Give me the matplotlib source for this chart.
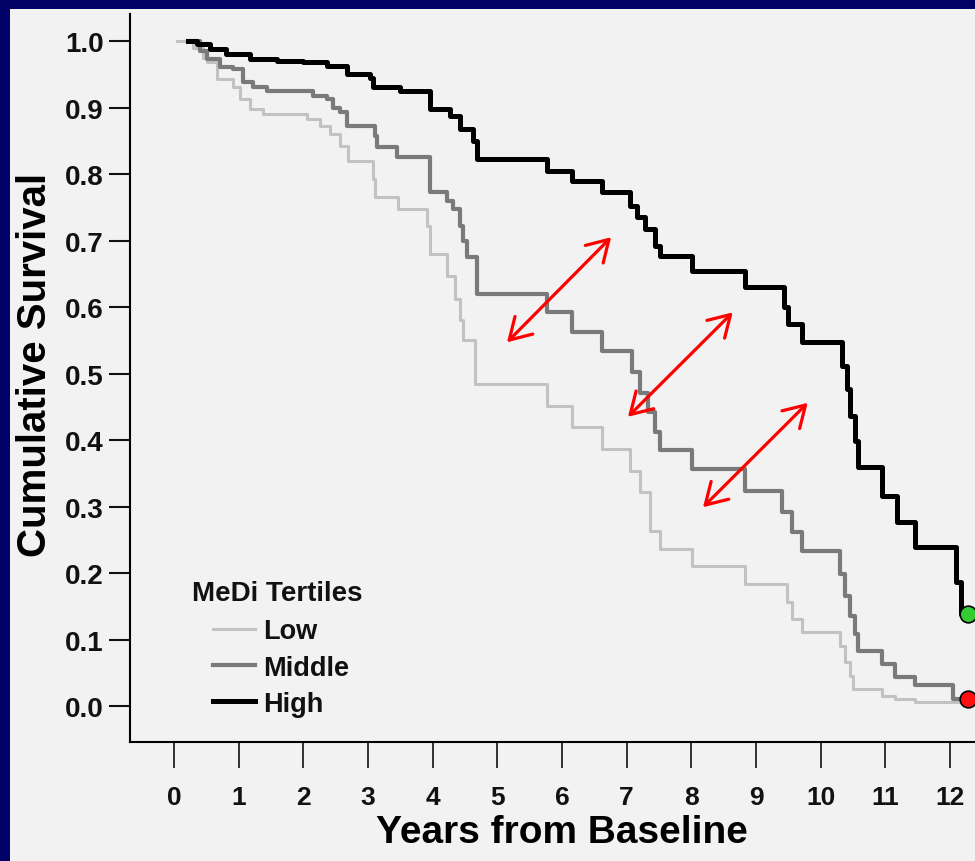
import matplotlib.pyplot as plt
from matplotlib.patches import Rectangle

years = list(range(13))
surv_ticks = [0.0, 0.1, 0.2, 0.3, 0.4, 0.5, 0.6, 0.7, 0.8, 0.9, 1.0]

# Kaplan-Meier steps (time, survival after the drop)
low_t = [0.05, 0.30, 0.45, 0.51, 0.66, 0.91, 1.02, 1.18, 1.38, 2.06, 2.26, 2.41, 2.57, 2.69, 3.08,
         3.11, 3.46, 3.91, 3.96, 4.22, 4.35, 4.42, 4.47, 4.65, 5.77, 6.15, 6.62, 7.05, 7.21, 7.36,
         7.51, 8.01, 8.83, 9.48, 9.56, 9.71, 10.30, 10.38, 10.45, 10.50, 10.95, 11.15, 11.46, 12.20]
low_s = [1.000, 0.990, 0.975, 0.968, 0.943, 0.931, 0.913, 0.898, 0.890, 0.883, 0.872, 0.860, 0.842, 0.820, 0.792,
         0.765, 0.747, 0.722, 0.680, 0.647, 0.612, 0.580, 0.550, 0.484, 0.451, 0.420, 0.386, 0.353, 0.322, 0.263,
         0.236, 0.211, 0.183, 0.156, 0.131, 0.111, 0.090, 0.066, 0.045, 0.026, 0.015, 0.010, 0.006, 0.006]

mid_t = [0.25, 0.40, 0.51, 0.71, 0.91, 1.07, 1.22, 1.44, 2.15, 2.37, 2.46, 2.57, 2.68, 3.11, 3.14,
         3.45, 3.96, 4.22, 4.31, 4.42, 4.47, 4.53, 4.69, 5.77, 6.15, 6.62, 7.08, 7.21, 7.33, 7.44,
         7.51, 8.01, 8.83, 9.40, 9.56, 9.71, 10.30, 10.38, 10.45, 10.53, 10.58, 10.95, 11.15, 11.46, 12.05, 12.20]
mid_s = [1.000, 0.985, 0.973, 0.961, 0.958, 0.938, 0.931, 0.925, 0.917, 0.913, 0.900, 0.893, 0.872, 0.857, 0.840,
         0.826, 0.773, 0.760, 0.747, 0.722, 0.700, 0.675, 0.620, 0.593, 0.563, 0.534, 0.502, 0.470, 0.442, 0.412,
         0.385, 0.356, 0.323, 0.292, 0.262, 0.233, 0.198, 0.165, 0.135, 0.108, 0.083, 0.063, 0.044, 0.032, 0.010, 0.010]

high_t = [0.22, 0.35, 0.56, 0.80, 1.18, 1.60, 1.99, 2.37, 2.68, 3.03, 3.08, 3.49, 3.96, 4.27, 4.42,
          4.62, 4.69, 5.77, 6.15, 6.62, 7.05, 7.16, 7.28, 7.44, 7.51, 8.01, 8.83, 9.43, 9.50, 9.71,
          10.33, 10.41, 10.45, 10.53, 10.58, 10.95, 11.18, 11.46, 12.09, 12.17, 12.20]
high_s = [1.000, 0.995, 0.988, 0.980, 0.973, 0.970, 0.968, 0.963, 0.950, 0.945, 0.931, 0.925, 0.898, 0.887, 0.868,
          0.850, 0.822, 0.805, 0.790, 0.773, 0.752, 0.735, 0.717, 0.692, 0.677, 0.654, 0.630, 0.600, 0.574, 0.547,
          0.511, 0.477, 0.436, 0.398, 0.359, 0.316, 0.277, 0.239, 0.186, 0.138, 0.138]

# red double arrows (tail, head) and end dots
arrow_from = [(5.15, 0.547), (7.02, 0.435), (8.18, 0.299)]
arrow_to = [(6.76, 0.705), (8.64, 0.592), (9.80, 0.456)]
dot_x = [12.28, 12.28]
dot_y = [0.138, 0.0105]
dot_colors = ['#33cc33', '#ff1010']

plt.rcParams['font.family'] = ['Liberation Sans', 'DejaVu Sans']
plt.rcParams['font.weight'] = 'bold'
plt.rcParams['text.color'] = '#111111'

fig = plt.figure(figsize=(9.75, 8.62), dpi=100, facecolor='#000066')
bg = Rectangle((10 / 975, 0), 1, 852 / 862, transform=fig.transFigure,
               facecolor='#f2f2f2', edgecolor='none', zorder=-10)
fig.add_artist(bg)
ax = fig.add_axes([130 / 975, 119 / 862, 845 / 975, 728 / 862])
ax.patch.set_visible(False)

ax.step(low_t, low_s, where='post', color='#c2c2c2', lw=2.2, label='Low')
ax.step(mid_t, mid_s, where='post', color='#7a7a7a', lw=3.0, label='Middle')
ax.step(high_t, high_s, where='post', color='#000000', lw=3.6, label='High')

for a, b in zip(arrow_from, arrow_to):
    ax.annotate('', xy=b, xytext=a,
                arrowprops=dict(arrowstyle='<->,head_length=0.75,head_width=0.45', color='#ff0000',
                                lw=2.3, shrinkA=0, shrinkB=0, mutation_scale=20))

for x, y, c in zip(dot_x, dot_y, dot_colors):
    ax.plot(x, y, 'o', color=c, mec='black', mew=1.2, ms=12, clip_on=False, zorder=5)

ax.set_xlim(-0.68, 12.386)
ax.set_ylim(-0.054, 1.0406)
ax.set_xticks(years)
ax.set_yticks(surv_ticks)
ax.set_yticklabels(['%.1f' % v for v in surv_ticks])

for s in ['top', 'right']:
    ax.spines[s].set_visible(False)
ax.spines['left'].set_linewidth(1.5)
ax.spines['bottom'].set_linewidth(1.5)
ax.tick_params(axis='y', length=15, width=1.5, pad=4, labelsize=20, colors='#111111')
ax.tick_params(axis='x', length=19, width=1.2, pad=12, labelsize=19, colors='#111111')

ax.set_xlabel('Years from Baseline', fontsize=28, fontweight='bold')
ax.xaxis.set_label_coords(0.511, -0.099)
ax.set_ylabel('Cumulative Survival', fontsize=29, fontweight='bold')
ax.yaxis.label.set_va('center')
ax.yaxis.set_label_coords(-0.112, 0.519)

ax.text(0.0734, 0.205, 'MeDi Tertiles', transform=ax.transAxes, fontsize=20,
        fontweight='bold', va='center', ha='left')
ax.legend(loc='upper left', bbox_to_anchor=(0.0982, 0.170), frameon=False, fontsize=19.5,
          handlelength=1.55, handletextpad=0.3, labelspacing=0.38, borderpad=0, borderaxespad=0)

fig.savefig('out.png', dpi=100, facecolor=fig.get_facecolor())
